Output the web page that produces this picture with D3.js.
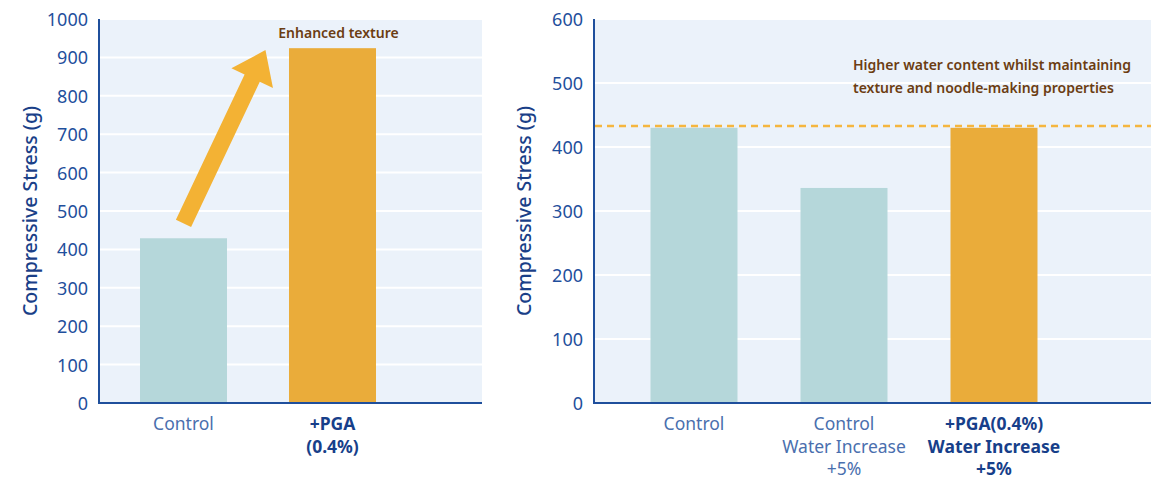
<!DOCTYPE html>
<html><head><meta charset="utf-8">
<script src="https://cdn.jsdelivr.net/npm/d3@7"></script>
<style>body{margin:0;background:#fff}svg{display:block}text{font-family:"Noto Sans","Open Sans",sans-serif}</style>
</head><body><svg id="c" width="1151" height="480"></svg>
<script>
// ---- data ----
const leftCategories = [["Control"], ["+PGA", "(0.4%)"]];
const leftValues = [429, 924];
const leftHighlight = [false, true];
const leftTicks = [0,100,200,300,400,500,600,700,800,900,1000];

const rightCategories = [["Control"], ["Control", "Water Increase", "+5%"], ["+PGA(0.4%)", "Water Increase", "+5%"]];
const rightValues = [430, 336, 430];
const rightHighlight = [false, false, true];
const rightTicks = [0,100,200,300,400,500,600];
const rightRefValue = 433;

const yTitle = "Compressive Stress (g)";
const leftNote = ["Enhanced texture"];
const rightNote = ["Higher water content whilst maintaining", "texture and noodle-making properties"];
// arrow: from/to in data space (category index offset, value)
const arrowFrom = [0, 468];
const arrowTo = [0.55, 919];

// ---- styles ----
const C = {bg:"#ebf2fa", grid:"#ffffff", axis:"#1f4f9c", tick:"#1f4f9c", title:"#1a3f88",
  teal:"#b5d7da", orange:"#eaac3a", arrow:"#f3b234", dash:"#f5b63f", note:"#6b3d12",
  catLight:"#4a6fae", catBold:"#173f8a"};

const svg = d3.select("#c");
const plotTop = 19, plotBottom = 403;

function panel(opt){
  const g = svg.append("g");
  const y = d3.scaleLinear().domain([0, opt.max]).range([plotBottom, plotTop]);
  const keys = opt.cats.map((c,i)=>i);
  const x = d3.scaleBand().domain(keys).range(opt.band).paddingInner(opt.pad).paddingOuter(opt.pad/2);
  g.append("rect").attr("x",opt.x0).attr("y",plotTop).attr("width",opt.x1-opt.x0).attr("height",plotBottom-plotTop).attr("fill",C.bg);
  // grid
  g.append("g").selectAll("line").data(opt.ticks.filter(t=>t>0)).join("line")
    .attr("x1",opt.x0).attr("x2",opt.x1).attr("y1",d=>y(d)).attr("y2",d=>y(d))
    .attr("stroke",C.grid).attr("stroke-width",2);
  // bars
  g.append("g").selectAll("rect").data(opt.vals).join("rect")
    .attr("x",(d,i)=>x(i)).attr("width",x.bandwidth())
    .attr("y",d=>y(d)).attr("height",d=>plotBottom-y(d))
    .attr("fill",(d,i)=>opt.hi[i]?C.orange:C.teal);
  // axis
  const ax = g.append("g").attr("transform",`translate(${opt.x0},0)`)
    .call(d3.axisLeft(y).tickValues(opt.ticks).tickFormat(d3.format("d")).tickSize(0).tickPadding(11));
  ax.select(".domain").remove();
  ax.selectAll("text").attr("fill",C.tick).attr("font-size",18).attr("dy","0.36em");
  g.append("line").attr("x1",opt.x0).attr("x2",opt.x0).attr("y1",plotTop).attr("y2",plotBottom).attr("stroke",C.axis).attr("stroke-width",2);
  g.append("line").attr("x1",opt.x0-1).attr("x2",opt.x1).attr("y1",plotBottom).attr("y2",plotBottom).attr("stroke",C.axis).attr("stroke-width",2);
  // y title
  g.append("text").attr("transform",`translate(${opt.titleX},${(plotTop+plotBottom)/2}) rotate(-90)`)
    .attr("text-anchor","middle").attr("font-size",19.5).attr("font-weight",500).attr("fill",C.title).text(yTitle);
  // categories
  opt.cats.forEach((lines,i)=>{
    const t = g.append("text").attr("text-anchor","middle")
      .attr("font-size",17.5).attr("fill",opt.hi[i]?C.catBold:C.catLight)
      .attr("font-weight",opt.hi[i]?700:400);
    lines.forEach((l,j)=>t.append("tspan").attr("x",x(i)+x.bandwidth()/2).attr("y",430+j*22.5).text(l));
  });
  return {g,x,y};
}

const L = panel({x0:99, x1:482, band:[109,407], pad:0.416, max:1000, ticks:leftTicks, vals:leftValues, hi:leftHighlight, cats:leftCategories, titleX:37});
const R = panel({x0:594, x1:1151, band:[619,1069], pad:0.42, max:600, ticks:rightTicks, vals:rightValues, hi:rightHighlight, cats:rightCategories, titleX:531});

// left arrow
(function(){
  const cx = i=>L.x(Math.floor(i))+L.x.bandwidth()/2 + (i-Math.floor(i))*L.x.step();
  const x1=cx(arrowFrom[0]), y1=L.y(arrowFrom[1]);
  const x2=cx(arrowTo[0]), y2=L.y(arrowTo[1]);
  const dx=x2-x1, dy=y2-y1, len=Math.hypot(dx,dy), ux=dx/len, uy=dy/len, px=-uy, py=ux;
  const hw=8.4, headL=31, headW=23;
  const bx=x2-ux*headL, by=y2-uy*headL;
  const pts=[[x1+px*hw,y1+py*hw],[bx+px*hw,by+py*hw],[bx+px*headW,by+py*headW],[x2,y2],
    [bx-px*headW,by-py*headW],[bx-px*hw,by-py*hw],[x1-px*hw,y1-py*hw]];
  L.g.append("polygon").attr("points",pts.map(p=>p.join(",")).join(" ")).attr("fill",C.arrow);
  L.g.append("text").attr("x",L.x(1)+L.x.bandwidth()/2+6).attr("y",38).attr("text-anchor","middle")
    .attr("font-size",14).attr("font-weight",600).attr("fill",C.note).text(leftNote[0]);
})();

// right reference line + note
R.g.append("line").attr("x1",595).attr("x2",1151).attr("y1",R.y(rightRefValue)).attr("y2",R.y(rightRefValue))
  .attr("stroke",C.dash).attr("stroke-width",2.5).attr("stroke-dasharray","7,5");
const rn = R.g.append("text").attr("font-size",14).attr("font-weight",600).attr("fill",C.note);
rightNote.forEach((l,j)=>rn.append("tspan").attr("x",853).attr("y",70+j*23).text(l));
</script></body></html>
